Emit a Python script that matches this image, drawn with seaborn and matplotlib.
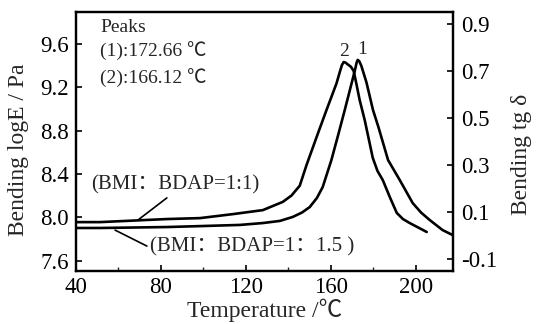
import numpy as np
import pandas as pd
import seaborn as sns
import matplotlib
matplotlib.use("Agg")
import matplotlib.pyplot as plt
from matplotlib.ticker import MultipleLocator

# tg delta curves
temp_11 = [40.5, 51.3, 82.8, 98.4, 113.9, 128.0, 137.4, 141.5, 145.4, 148.6, 153.3, 158.0,
           162.7, 164.4, 165.3, 166.1, 166.9, 168.0, 169.5, 170.8, 172.2, 173.6, 176.0,
           179.8, 182.0, 184.5, 187.8, 191.1, 194.0, 197.2, 201.0, 205.2]
tgd_11 = [0.057, 0.057, 0.070, 0.074, 0.091, 0.108, 0.143, 0.170, 0.212, 0.300, 0.418, 0.534,
          0.647, 0.700, 0.726, 0.738, 0.736, 0.728, 0.718, 0.700, 0.640, 0.577, 0.491,
          0.330, 0.275, 0.236, 0.164, 0.096, 0.070, 0.053, 0.035, 0.015]

temp_115 = [40.5, 51.3, 82.8, 98.4, 117.2, 128.0, 136.0, 142.1, 146.5, 150.1, 153.5, 156.2,
            160.3, 163.5, 166.6, 169.8, 171.3, 172.2, 172.7, 173.4, 174.4, 176.8, 179.9,
            182.5, 187.0, 192.5, 198.6, 202.5, 206.6, 212.7, 217.4]
tgd_115 = [0.032, 0.032, 0.036, 0.040, 0.045, 0.053, 0.062, 0.079, 0.098, 0.121, 0.160, 0.206,
           0.321, 0.428, 0.534, 0.647, 0.700, 0.736, 0.747, 0.742, 0.722, 0.652, 0.534,
           0.460, 0.321, 0.236, 0.138, 0.098, 0.066, 0.023, 0.002]

left_ticks = [7.6, 8.0, 8.4, 8.8, 9.2, 9.6]
right_ticks = [-0.1, 0.1, 0.3, 0.5, 0.7, 0.9]
x_ticks = [40, 80, 120, 160, 200]

df = pd.concat([
    pd.DataFrame({"T": temp_11, "tgd": tgd_11, "ratio": "1:1"}),
    pd.DataFrame({"T": temp_115, "tgd": tgd_115, "ratio": "1:1.5"}),
])

sns.set_theme(style="ticks")
fonts = ["Liberation Serif", "Noto Sans CJK SC", "DejaVu Sans"]
plt.rcParams["font.family"] = fonts
plt.rcParams["axes.unicode_minus"] = False

fig = plt.figure(figsize=(5.41, 3.24), dpi=100)
ax = fig.add_axes([0.1405, 0.1636, 0.6965, 0.7994])
ax2 = ax.twinx()

sns.lineplot(data=df, x="T", y="tgd", units="ratio", estimator=None, color="black",
             lw=1.9, sort=False, ax=ax2, legend=False)

ax.set_xlim(40, 217.5)
ax.set_ylim(7.508, 9.89)
ax2.set_ylim(-0.151, 0.951)

ax.set_xticks(x_ticks)
ax.xaxis.set_minor_locator(MultipleLocator(20))
ax.set_yticks(left_ticks)
ax.set_yticklabels([f"{v:.1f}" for v in left_ticks])
ax2.set_yticks(right_ticks)
ax2.set_yticklabels([f"{v:.1f}" for v in right_ticks])

for a in (ax, ax2):
    for s in a.spines.values():
        s.set_linewidth(1.6)
        s.set_color("black")
    a.tick_params(direction="in", length=4, width=1.2, labelsize=16.5, colors="black", pad=4)
    a.tick_params(which="minor", direction="in", length=3, width=1.0)
ax.tick_params(axis="y", right=False, pad=5)
ax2.tick_params(axis="y", pad=6)
ax2.tick_params(axis="x", which="both", bottom=False, top=False)

ax.set_xlabel("Temperature /℃", fontsize=17, labelpad=1)
ax.set_ylabel("Bending logE / Pa", fontsize=17)
ax.yaxis.set_label_coords(-0.125, 0.47)
ax2.set_ylabel("Bending tg δ", fontsize=17)
ax2.yaxis.set_label_coords(1.155, 0.45)

# text
ax2.text(51.5, 0.887, "Peaks", fontsize=14, ha="left", va="center", family=fonts)
ax2.text(51.5, 0.781, "(1):172.66 ℃", fontsize=14, ha="left", va="center", family=fonts)
ax2.text(51.5, 0.670, "(2):166.12 ℃", fontsize=14, ha="left", va="center", family=fonts)
ax2.text(166.4, 0.785, "2", fontsize=14, ha="center", va="center", family=fonts)
ax2.text(174.8, 0.792, "1", fontsize=14, ha="center", va="center", family=fonts)

ax2.text(86.6, 0.215, "(BMI：BDAP=1:1)", fontsize=15, ha="center", va="center", family=fonts)
ax2.annotate("", xy=(69.2, 0.066), xytext=(82.8, 0.160),
             arrowprops=dict(arrowstyle="-", color="black", lw=1.2, shrinkA=0, shrinkB=0))
ax2.text(122.8, -0.049, "(BMI：BDAP=1：1.5 )", fontsize=15, ha="center", va="center", family=fonts)
ax2.annotate("", xy=(58.4, 0.023), xytext=(73.4, -0.045),
             arrowprops=dict(arrowstyle="-", color="black", lw=1.2, shrinkA=0, shrinkB=0))

fig.savefig("out.png", dpi=100)
